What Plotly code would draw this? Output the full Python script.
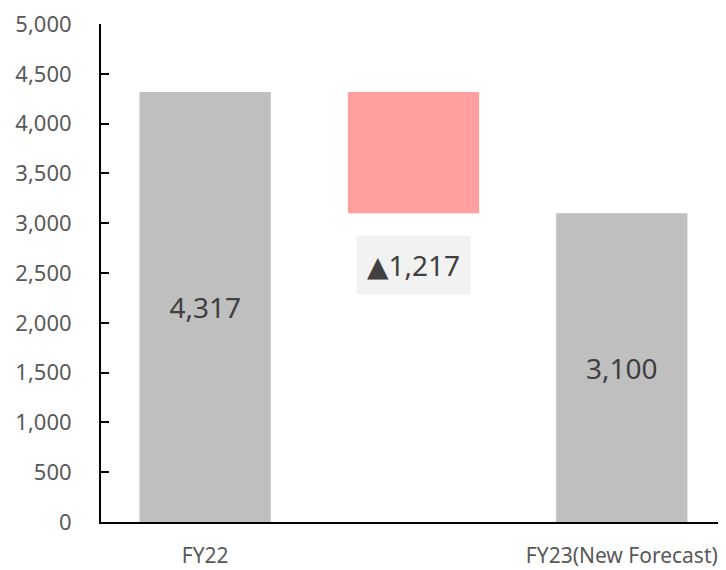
import plotly.graph_objects as go

# Data
categories = ["FY22", "Change", "FY23(New Forecast)"]
tick_labels = ["FY22", "", "FY23(New Forecast)"]
values = [4317, 1217, 3100]
bases = [0, 3100, 0]
bar_colors = ["#bfbfbf", "#ff9f9f", "#bfbfbf"]
bar_text = ["4,317", "", "3,100"]
change_label = "▲1,217"
change_label_y = 2580

fig = go.Figure()

fig.add_trace(go.Bar(
    x=categories,
    y=values,
    base=bases,
    marker=dict(color=bar_colors, line=dict(width=0)),
    width=0.63,
    text=bar_text,
    textposition="inside",
    insidetextanchor="middle",
    textfont=dict(size=28, color="#404040"),
    hoverinfo="skip",
))

# label box for the decrease
fig.add_annotation(
    x=categories[1], y=change_label_y,
    text=change_label,
    showarrow=False,
    font=dict(size=28, color="#404040"),
    bgcolor="#f2f2f2",
    borderpad=10,
)

# page body has an 8px margin, so the figure is 8px smaller
fig.update_layout(
    width=718, height=562,
    margin=dict(l=93, r=0, t=16, b=48),
    plot_bgcolor="white",
    paper_bgcolor="white",
    font=dict(family="Noto Sans, DejaVu Sans, sans-serif"),
    showlegend=False,
    xaxis=dict(
        tickmode="array",
        tickvals=categories,
        ticktext=tick_labels,
        showline=True, linecolor="black", linewidth=2,
        ticks="", showgrid=False,
        tickfont=dict(size=21, color="#595959"),
        ticklabelstandoff=14,
        ticklabeloverflow="allow",
        automargin=False,
    ),
    yaxis=dict(
        range=[0, 5000],
        tickvals=list(range(0, 5001, 500)),
        tickformat=",d",
        showline=True, linecolor="black", linewidth=2,
        ticks="inside", ticklen=8, tickwidth=2, tickcolor="black",
        showgrid=False, zeroline=False,
        tickfont=dict(size=22, color="#595959"),
        ticklabelstandoff=23,
        ticklabeloverflow="allow",
        automargin=False,
    ),
)

fig.write_html("out.html")
